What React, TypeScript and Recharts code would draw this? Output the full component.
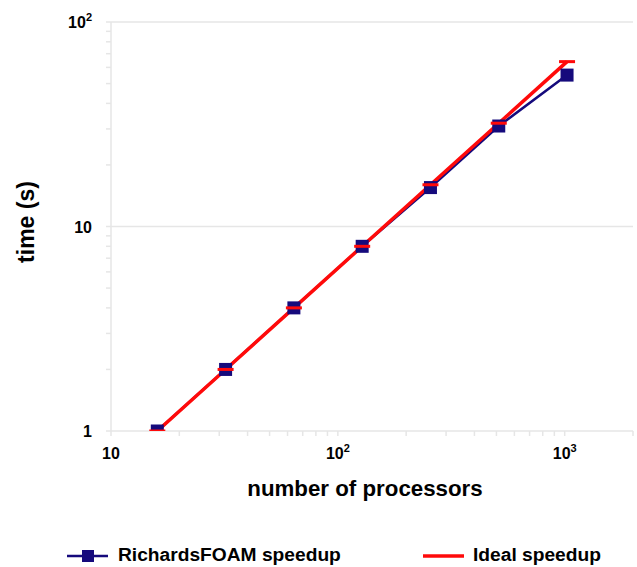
import { LineChart, Line, XAxis, YAxis, ReferenceLine, Legend } from 'recharts';

const processors = [16, 32, 64, 128, 256, 512, 1024];
const richardsSpeedup = [1, 2, 4, 8, 15.5, 31, 55];
const idealSpeedup = [1, 2, 4, 8, 16, 32, 64];

const xTicks = [10, 20, 30, 40, 50, 60, 70, 80, 90, 100, 200, 300, 400, 500, 600, 700, 800, 900, 1000, 2000];
const yTicks = [1, 2, 3, 4, 5, 6, 7, 8, 9, 10, 20, 30, 40, 50, 60, 70, 80, 90, 100];
const yGridValues = [10, 100];

const data = processors.map((p, i) => ({
  p,
  foam: richardsSpeedup[i],
  ideal: idealSpeedup[i],
}));

const FONT = '"Liberation Sans", Arial, sans-serif';
const BLUE = '#150a7c';
const RED = '#ff0a0a';
const GRID = '#e6e6e6';

function isDecade(v: number) {
  const l = Math.log10(v);
  return Math.abs(l - Math.round(l)) < 1e-9;
}

function DecadeText({ v, x, y, anchor }: { v: number; x: number; y: number; anchor: string }) {
  const e = Math.round(Math.log10(v));
  return (
    <text x={x} y={y} textAnchor={anchor} fontFamily={FONT} fontWeight="bold" fontSize={16} fill="#000">
      {e <= 1 ? (
        <tspan>{e === 0 ? '1' : '10'}</tspan>
      ) : (
        <>
          <tspan>10</tspan>
          <tspan dy={-7} fontSize={11}>{e}</tspan>
        </>
      )}
    </text>
  );
}

function XTick({ x, y, payload }: any) {
  if (!isDecade(payload.value)) return null;
  return <DecadeText v={payload.value} x={x} y={y + 21} anchor="middle" />;
}

function YTick({ x, y, payload }: any) {
  if (!isDecade(payload.value)) return null;
  return <DecadeText v={payload.value} x={x - 12} y={y + 6} anchor="end" />;
}

function IdealDot({ cx, cy }: any) {
  if (cx == null || cy == null) return null;
  return <rect x={cx - 8} y={cy - 1.5} width={16} height={3} fill={RED} />;
}

function FoamDot({ cx, cy }: any) {
  if (cx == null || cy == null) return null;
  return <rect x={cx - 6.5} y={cy - 6.5} width={13} height={13} fill={BLUE} />;
}

function renderLegend() {
  const txt = { fontFamily: FONT, fontWeight: 'bold' as const, fontSize: 19.2, fill: '#000' };
  return (
    <svg width={637} height={24} style={{ display: 'block' }}>
      <line x1={67} y1={13} x2={108} y2={13} stroke={BLUE} strokeWidth={2.5} />
      <rect x={82} y={7} width={12} height={12} fill={BLUE} />
      <text x={118} y={18} {...txt}>RichardsFOAM speedup</text>
      <line x1={423} y1={13} x2={464} y2={13} stroke={RED} strokeWidth={3.5} />
      <text x={473} y={18} {...txt}>Ideal speedup</text>
    </svg>
  );
}

export default function App() {
  return (
    <div style={{ position: 'absolute', left: 0, top: 0, width: 637, height: 567, background: '#fff' }}>
      <LineChart width={637} height={567} data={data} margin={{ top: 22, right: 4, left: 0, bottom: 0 }}>
        {yGridValues.map((v) => (
          <ReferenceLine key={v} y={v} stroke={GRID} strokeWidth={1.5} ifOverflow="extendDomain" />
        ))}
        <XAxis
          dataKey="p"
          type="number"
          scale="log"
          domain={[10, 2000]}
          ticks={xTicks}
          interval={0}
          allowDataOverflow
          height={112}
          tickSize={5}
          axisLine={{ stroke: GRID, strokeWidth: 1.5 }}
          tickLine={{ stroke: GRID, strokeWidth: 1.5 }}
          tick={<XTick />}
          label={({ viewBox }: any) => (
            <text
              x={365}
              y={viewBox.y + 65}
              textAnchor="middle"
              fontFamily={FONT}
              fontWeight="bold"
              fontSize={22.3}
              fill="#000"
            >
              number of processors
            </text>
          )}
        />
        <YAxis
          type="number"
          scale="log"
          domain={[1, 100]}
          ticks={yTicks}
          interval={0}
          allowDataOverflow
          width={111}
          tickSize={5}
          axisLine={{ stroke: GRID, strokeWidth: 1.5 }}
          tickLine={{ stroke: GRID, strokeWidth: 1.5 }}
          tick={<YTick />}
          label={() => (
            <text
              x={34}
              y={222}
              transform="rotate(-90 34 222)"
              textAnchor="middle"
              fontFamily={FONT}
              fontWeight="bold"
              fontSize={23}
              fill="#000"
            >
              time (s)
            </text>
          )}
        />
        <Legend verticalAlign="bottom" height={24} content={renderLegend} />
        <Line
          dataKey="foam"
          name="RichardsFOAM speedup"
          stroke={BLUE}
          strokeWidth={2.5}
          dot={<FoamDot />}
          activeDot={false}
          isAnimationActive={false}
        />
        <Line
          dataKey="ideal"
          name="Ideal speedup"
          stroke={RED}
          strokeWidth={3.5}
          dot={<IdealDot />}
          activeDot={false}
          isAnimationActive={false}
        />
      </LineChart>
    </div>
  );
}
